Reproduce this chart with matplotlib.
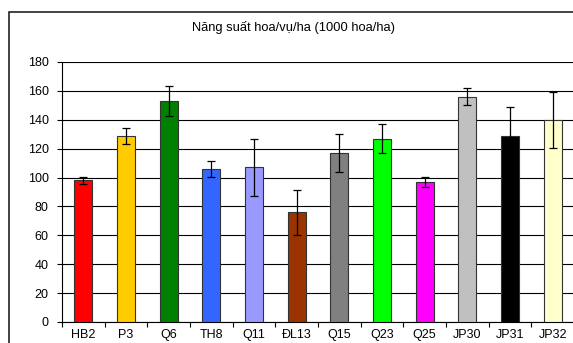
import matplotlib
matplotlib.use("Agg")
import matplotlib.pyplot as plt
from matplotlib.patches import Rectangle

categories = ["HB2", "P3", "Q6", "TH8", "Q11", "ĐL13", "Q15", "Q23", "Q25", "JP30", "JP31", "JP32"]
values = [98, 129, 153, 106, 107, 76, 117, 127, 97, 156, 129, 140]
errors = [2.5, 5.5, 10.5, 5.5, 20, 15.5, 13, 10, 3.7, 6, 20, 19.5]
colors = ["#FF0000", "#FFCC00", "#008000", "#3366FF", "#9999FF", "#993300",
          "#808080", "#00FF00", "#FF00FF", "#C0C0C0", "#000000", "#FFFFCC"]
yticks = [0, 20, 40, 60, 80, 100, 120, 140, 160, 180]
title = "Năng suất hoa/vụ/ha (1000 hoa/ha)"

plt.rcParams['font.family'] = ['Liberation Sans', 'DejaVu Sans']

W, H = 573, 343
fig = plt.figure(figsize=(W / 100, H / 100), dpi=100)

# outer chart border
fig.patches.append(Rectangle((9 / W, -0.1), 1.2, 1 - 12 / H + 0.1, transform=fig.transFigure,
                             fill=False, edgecolor="#222222", linewidth=1.2))

left, right, top, bottom = 62, 574, 62, 322
ax = fig.add_axes([left / W, 1 - bottom / H, (right - left) / W, (bottom - top) / H])

x = list(range(len(categories)))
ax.bar(x, values, width=0.42, color=colors, edgecolor="#333333", linewidth=0.8, zorder=3)
ax.errorbar(x, values, yerr=errors, fmt="none", ecolor="black", elinewidth=0.9,
            capsize=3, capthick=0.9, zorder=4)

ax.set_xlim(-0.5, len(categories) - 0.5)
ax.set_ylim(0, 180)
ax.set_yticks(yticks)
ax.set_yticklabels([str(t) for t in yticks], fontsize=9)
ax.yaxis.grid(True, color="black", linewidth=0.8, zorder=0)
ax.set_axisbelow(True)

ax.set_xticks(x)
ax.set_xticklabels(categories, fontsize=9)
ax.set_xticks([i + 0.5 for i in range(-1, len(categories))], minor=True)
ax.tick_params(axis="x", which="major", length=0, pad=5)
ax.tick_params(axis="x", which="minor", length=3.5, width=0.8, direction="out")
ax.tick_params(axis="y", length=3.5, width=0.8, direction="out", pad=6)

for s in ["top", "right"]:
    ax.spines[s].set_visible(False)
ax.spines["left"].set_linewidth(0.8)
ax.spines["bottom"].set_linewidth(0.8)

fig.text(293 / W, 1 - 28 / H, title, ha="center", va="center", fontsize=9.3)

fig.savefig("out.png", dpi=100)
